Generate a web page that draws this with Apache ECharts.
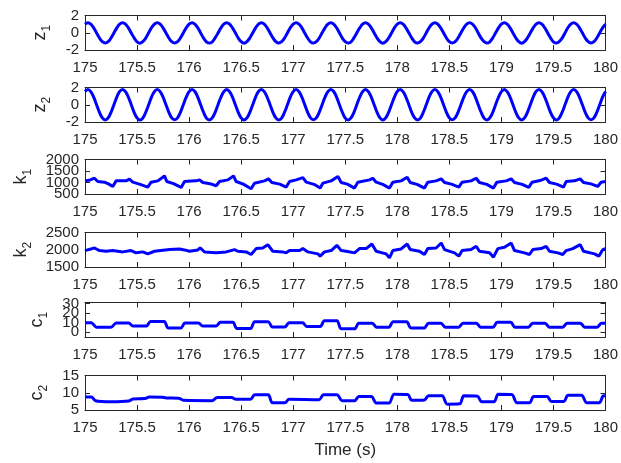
<!DOCTYPE html>
<html><head><meta charset="utf-8">
<script src="https://cdn.jsdelivr.net/npm/echarts@6/dist/echarts.min.js"></script>
<style>html,body{margin:0;padding:0;background:#fff}#c{width:621px;height:463px}</style>
</head><body><div id="c"></div>
<script>
// ---- data ----
const xTicks = [175, 175.5, 176, 176.5, 177, 177.5, 178, 178.5, 179, 179.5, 180];
const zStart = 175, zStep = 1 / 36;
const z1 = [
 1.00,1.16,1.00,0.57,-0.02,-0.61,-1.04,-1.20,-1.04,-0.61,-0.02,0.57,
 1.01,1.15,1.00,0.56,-0.03,-0.60,-1.05,-1.21,-1.03,-0.62,-0.01,0.58,
 1.00,1.16,1.01,0.57,-0.02,-0.61,-1.04,-1.19,-1.04,-0.61,-0.02,0.57,
 0.99,1.15,1.00,0.58,-0.02,-0.62,-1.05,-1.20,-1.05,-0.60,-0.03,0.56,
 1.00,1.16,0.99,0.57,-0.01,-0.61,-1.04,-1.21,-1.04,-0.61,-0.02,0.57,
 1.01,1.17,1.00,0.56,-0.02,-0.60,-1.03,-1.20,-1.03,-0.62,-0.02,0.58,
 1.00,1.16,1.01,0.57,-0.03,-0.61,-1.05,-1.19,-1.04,-0.61,-0.01,0.57,
 1.00,1.15,1.00,0.58,-0.02,-0.62,-1.04,-1.20,-1.05,-0.60,-0.02,0.56,
 0.99,1.16,1.00,0.57,-0.02,-0.61,-1.04,-1.21,-1.04,-0.61,-0.03,0.57,
 1.01,1.16,0.99,0.56,-0.01,-0.60,-1.05,-1.20,-1.03,-0.62,-0.02,0.58,
 1.00,1.17,1.00,0.57,-0.02,-0.61,-1.04,-1.19,-1.04,-0.61,-0.02,0.57,
 1.00,1.15,1.01,0.58,-0.03,-0.62,-1.03,-1.20,-1.05,-0.60,-0.01,0.56,
 0.99,1.16,1.00,0.57,-0.02,-0.61,-1.04,-1.21,-1.04,-0.61,-0.02,0.57,
 1.01,1.16,1.00,0.56,-0.02,-0.60,-1.05,-1.20,-1.03,-0.62,-0.03,0.58,
 1.00,1.15,0.99,0.57,-0.01,-0.61,-1.04,-1.20,-1.04,-0.61,-0.02,0.57,
 1.00];
const z2 = [
 1.53,1.77,1.53,0.88,0.00,-0.88,-1.53,-1.76,-1.53,-0.88,0.00,0.88,
 1.54,1.78,1.52,0.87,0.01,-0.89,-1.52,-1.77,-1.54,-0.87,-0.01,0.89,
 1.53,1.76,1.53,0.88,0.00,-0.88,-1.53,-1.75,-1.53,-0.88,0.00,0.88,
 1.52,1.77,1.54,0.89,-0.01,-0.87,-1.54,-1.76,-1.52,-0.89,0.01,0.87,
 1.53,1.78,1.53,0.88,0.00,-0.88,-1.53,-1.77,-1.53,-0.88,0.00,0.88,
 1.54,1.77,1.52,0.87,0.01,-0.89,-1.52,-1.76,-1.54,-0.87,-0.01,0.89,
 1.53,1.76,1.53,0.88,0.00,-0.88,-1.53,-1.75,-1.53,-0.88,0.00,0.88,
 1.52,1.77,1.54,0.89,-0.01,-0.87,-1.54,-1.76,-1.52,-0.89,0.01,0.87,
 1.53,1.78,1.53,0.88,0.00,-0.88,-1.53,-1.77,-1.53,-0.88,0.00,0.88,
 1.54,1.77,1.52,0.87,0.01,-0.89,-1.52,-1.76,-1.54,-0.87,-0.01,0.89,
 1.53,1.76,1.53,0.88,0.00,-0.88,-1.53,-1.75,-1.53,-0.88,0.00,0.88,
 1.52,1.77,1.54,0.89,-0.01,-0.87,-1.54,-1.76,-1.52,-0.89,0.01,0.87,
 1.53,1.78,1.53,0.88,0.00,-0.88,-1.53,-1.77,-1.53,-0.88,0.00,0.88,
 1.54,1.77,1.52,0.87,0.01,-0.89,-1.52,-1.76,-1.54,-0.87,-0.01,0.89,
 1.53,1.76,1.53,0.88,0.00,-0.88,-1.53,-1.75,-1.53,-0.88,0.00,0.88,
 1.53];
const k1T = [175.000,175.050,175.091,175.123,175.187,175.230,175.267,175.299,175.350,175.395,175.427,175.459,175.530,175.603,175.635,175.700,175.764,175.786,175.850,175.924,175.956,176.020,176.068,176.100,176.132,176.200,176.260,176.292,176.372,176.427,176.452,176.520,176.596,176.628,176.724,176.763,176.795,176.870,176.933,176.965,177.029,177.093,177.125,177.200,177.259,177.285,177.365,177.430,177.461,177.520,177.589,177.621,177.733,177.765,177.797,177.860,177.925,177.957,178.037,178.095,178.124,178.190,178.261,178.293,178.373,178.422,178.454,178.520,178.591,178.623,178.709,178.758,178.789,178.860,178.924,178.956,179.046,179.094,179.126,179.200,179.263,179.295,179.382,179.430,179.462,179.530,179.597,179.622,179.702,179.757,179.789,179.860,179.926,179.958,180.000];
const k1V = [1071,1110,1186,1043,1014,930,828,1071,1080,1071,1143,1014,920,800,1014,1071,1286,1043,950,786,1043,1060,1071,1114,1000,950,857,1043,1114,1286,1043,930,729,971,1071,1157,1000,930,800,1043,1114,1214,1014,920,757,971,1071,1257,1000,930,757,1014,1114,1186,1014,920,757,1014,1071,1229,1000,920,757,1014,1071,1157,1000,930,800,1014,1071,1186,1000,920,757,1014,1071,1157,1000,920,786,1014,1100,1186,1000,930,800,1043,1071,1157,1000,940,828,1014,1043];
const k2T = [175.000,175.091,175.139,175.203,175.267,175.363,175.443,175.453,175.491,175.555,175.603,175.667,175.812,175.908,175.956,175.972,176.004,176.084,176.106,176.148,176.260,176.356,176.436,176.468,176.548,176.596,176.644,176.708,176.756,176.804,176.900,176.932,176.965,177.061,177.093,177.141,177.237,177.259,177.301,177.365,177.420,177.461,177.509,177.589,177.637,177.701,177.756,177.797,177.893,177.925,177.957,178.037,178.095,178.124,178.213,178.261,178.293,178.373,178.422,178.454,178.550,178.591,178.623,178.709,178.758,178.789,178.886,178.924,178.966,179.030,179.094,179.126,179.222,179.270,179.302,179.382,179.430,179.462,179.542,179.590,179.622,179.686,179.757,179.789,179.895,179.936,179.975,180.000];
const k2V = [1976,2052,1976,1957,1976,1938,1976,2024,1910,1938,1881,1957,2005,2024,1995,2052,1957,1995,2052,1938,1910,1938,2005,1957,1938,1862,2033,2052,2148,1957,1938,1910,1976,1976,2033,1938,1881,1814,1938,1976,2129,1976,1957,1910,2033,2033,2167,1957,1881,1767,1976,2024,2167,2005,1957,1862,2033,2052,2195,2005,1910,1814,1976,2005,2100,1957,1910,1786,2033,2071,2195,1976,1910,1862,2005,2033,2100,1957,1910,1862,1976,2033,2148,1957,1881,1814,2005,2033];
const c1T = [175.00,175.06,175.11,175.25,175.30,175.42,175.46,175.59,175.63,175.76,175.80,175.92,175.96,176.09,176.13,176.26,176.30,176.42,176.46,176.59,176.63,176.76,176.80,176.92,176.96,177.09,177.13,177.26,177.30,177.42,177.46,177.59,177.63,177.76,177.80,177.92,177.96,178.09,178.13,178.26,178.30,178.42,178.46,178.59,178.63,178.76,178.80,178.92,178.96,179.09,179.13,179.26,179.30,179.42,179.46,179.59,179.63,179.76,179.80,179.92,179.96,180.00];
const c1V = [10,10,5.3,5.3,9.5,9.5,6.5,6.5,11.2,11.2,4.3,4.3,9.5,9.5,6.5,6.5,10.3,10.3,3.8,3.8,11,11,5.5,5.5,9.8,9.8,6,6,12,12,3.6,3.6,9.3,9.3,5.3,5.3,11,11,4.5,4.5,9.3,9.3,5.3,5.3,9.3,9.3,5.3,5.3,10.3,10.3,5.3,5.3,9.3,9.3,5.3,5.3,9.3,9.3,5.3,5.3,9.3,9.3];
const c2T = [175.00,175.06,175.10,175.25,175.42,175.46,175.57,175.62,175.74,175.78,175.90,175.95,176.22,176.27,176.41,176.45,176.59,176.63,176.76,176.80,176.92,176.96,177.25,177.29,177.42,177.47,177.59,177.63,177.75,177.80,177.92,177.97,178.10,178.14,178.26,178.30,178.43,178.48,178.60,178.64,178.77,178.81,178.93,178.97,179.10,179.15,179.27,179.31,179.44,179.48,179.60,179.64,179.77,179.82,179.94,179.98,180.00];
const c2V = [8.8,8.8,7.7,7.4,7.6,8.2,8.3,8.8,8.7,8.5,8.4,7.8,7.7,8.6,8.6,8.1,8.1,9.4,9.4,7.1,7.1,8.1,8.0,9.4,9.4,7.7,7.7,8.9,8.9,7.0,7.0,9.6,9.5,7.8,7.9,9.1,9.1,6.7,6.8,9.1,9.0,7.4,7.4,9.6,9.5,7.1,7.1,8.9,8.9,7.5,7.5,9.3,9.3,7.1,7.1,9.1,9.1];

const panels = [
  {name:'z', sub:'1', min:-2, max:2, labels:[-2,0,2], gap:32},
  {name:'z', sub:'2', min:-2, max:2, labels:[-2,0,2], gap:32},
  {name:'k', sub:'1', min:500, max:2000, labels:[500,1000,1500,2000], gap:51},
  {name:'k', sub:'2', min:1500, max:2500, labels:[1500,2000,2500], gap:51},
  {name:'c', sub:'1', min:-5, max:31, labels:[0,10,20,30], gap:35},
  {name:'c', sub:'2', min:5, max:15, labels:[5,10,15], gap:35}
];
const tops = [15.5, 87.5, 159.5, 232.5, 302.5, 375.5];

const zData = a => a.map((v,i) => [zStart + i*zStep, v]);
const pair = (t,v) => t.map((x,i) => [x, v[i]]);
const seriesData = [zData(z1), zData(z2), pair(k1T,k1V), pair(k2T,k2V), pair(c1T,c1V), pair(c2T,c2V)];

const TXT = '#262626';
const FONT = 'Liberation Sans, Arial, Helvetica, sans-serif';
const grid = [], xAxis = [], yAxis = [], series = [];
panels.forEach((p, i) => {
  grid.push({left:85, right:15, top:tops[i], height:34.5});
  const common = {type:'value', min:175, max:180, gridIndex:i,
    axisLine:{onZero:false, lineStyle:{color:TXT, width:1}},
    axisTick:{inside:true, length:5, lineStyle:{color:TXT}, customValues:xTicks},
    splitLine:{show:false}};
  xAxis.push(Object.assign({}, common, {position:'bottom',
    axisLabel:{color:TXT, fontSize:15, fontFamily:FONT, margin:10, customValues:xTicks,
      showMinLabel:true, showMaxLabel:true, hideOverlap:false, formatter:v => String(v)},
    name: i === 5 ? 'Time (s)' : '', nameLocation:'middle', nameGap:32,
    nameTextStyle:{color:TXT, fontSize:17, fontFamily:FONT}}));
  xAxis.push(Object.assign({}, common, {position:'top', axisLabel:{show:false}}));
  const yc = {type:'value', min:p.min, max:p.max, gridIndex:i,
    axisLine:{show:true, onZero:false, lineStyle:{color:TXT, width:1}},
    axisTick:{show:true, inside:true, length:5, lineStyle:{color:TXT}, customValues:p.labels},
    splitLine:{show:false}};
  const labA = p.labels.filter((v,j) => j % 2 === 0);
  const labB = p.labels.filter((v,j) => j % 2 === 1);
  const lab = vals => ({color:TXT, fontSize:15, fontFamily:FONT, margin:6, customValues:vals,
      showMinLabel:true, showMaxLabel:true, hideOverlap:false, formatter:v => String(v)});
  // left axis: line, ticks, name, even-index labels
  yAxis.push(Object.assign({}, yc, {position:'left', axisLabel:lab(labA),
    name:'{m|' + p.name + '}{s|' + p.sub + '}', nameLocation:'middle', nameRotate:90, nameGap:p.gap,
    nameTextStyle:{color:TXT, fontFamily:FONT,
      rich:{m:{fontSize:18, fontFamily:FONT, color:TXT, verticalAlign:'top', lineHeight:22},
            s:{fontSize:12, fontFamily:FONT, color:TXT, verticalAlign:'bottom', lineHeight:12}}}}));
  // right axis: box edge with ticks
  yAxis.push(Object.assign({}, yc, {position:'right', axisLabel:{show:false}}));
  // second left axis carrying odd-index labels (crowded labels stay visible)
  yAxis.push({type:'value', min:p.min, max:p.max, gridIndex:i, position:'left',
    axisLine:{show:false, onZero:false}, axisTick:{show:false}, splitLine:{show:false},
    axisLabel: labB.length ? lab(labB) : {show:false}});
  series.push({type:'line', xAxisIndex:2*i, yAxisIndex:3*i, data:seriesData[i],
    showSymbol:false, smooth: i < 2 ? 0.4 : (i >= 4 ? 0.3 : false),
    lineStyle:{color:'#0000ff', width:3}, clip:true});
});

const chart = echarts.init(document.getElementById('c'), null, {renderer:'canvas'});
chart.setOption({animation:false, backgroundColor:'#fff', grid, xAxis, yAxis, series});
</script></body></html>
